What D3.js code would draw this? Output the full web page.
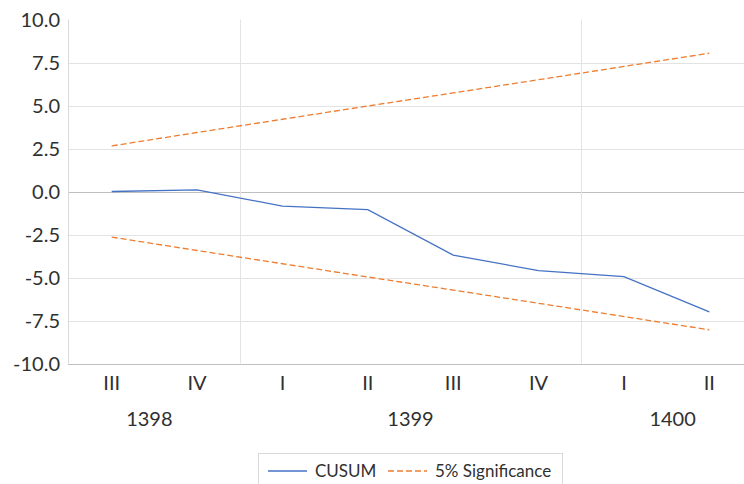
<!DOCTYPE html>
<html><head><meta charset="utf-8">
<script src="https://cdn.jsdelivr.net/npm/d3@7"></script>
<style>body{margin:0;background:#fff}svg{display:block}text{font-family:Lato,"Open Sans",sans-serif;fill:#303030}</style>
</head><body><svg id="c" width="744" height="484"></svg>
<script>
const quarters = ["III","IV","I","II","III","IV","I","II"];
const years = ["1398","1398","1399","1399","1399","1399","1400","1400"];
const cusum = [0.0, 0.1, -0.85, -1.05, -3.7, -4.6, -4.95, -7.0];
const upper = [2.65, 3.43, 4.2, 4.97, 5.73, 6.5, 7.27, 8.04];
const lower = [-2.65, -3.43, -4.2, -4.97, -5.73, -6.5, -7.27, -8.04];
const yTicks = [-10, -7.5, -5, -2.5, 0, 2.5, 5, 7.5, 10];

const svg = d3.select("#c");
const x = d3.scaleBand().domain(d3.range(quarters.length)).range([69, 752]);
const y = d3.scaleLinear().domain([-10, 10]).range([363.5, 19.5]);
const cx = i => x(i) + x.bandwidth() / 2;
const yearNudge = [-5, 0, 6]; // layout tweak for group label placement

// horizontal gridlines
svg.append("g").selectAll("line").data(yTicks.filter(t => t !== 10 && t !== -10)).join("line")
  .attr("x1", x.range()[0]).attr("x2", 744)
  .attr("y1", d => Math.round(y(d)) + 0.5).attr("y2", d => Math.round(y(d)) + 0.5)
  .attr("stroke", d => d === 0 ? "#bfbfbf" : "#e3e3e3").attr("stroke-width", 1);

// year groups
const groups = [];
years.forEach((yr, i) => {
  if (!groups.length || groups[groups.length - 1].yr !== yr) groups.push({yr, start: i, end: i});
  else groups[groups.length - 1].end = i;
});
svg.append("g").selectAll("line").data(groups.slice(1)).join("line")
  .attr("x1", d => Math.round(x(d.start)) + 0.5).attr("x2", d => Math.round(x(d.start)) + 0.5)
  .attr("y1", y(10)).attr("y2", y(-10))
  .attr("stroke", "#e3e3e3");

// axis lines
svg.append("line").attr("x1", 68.5).attr("x2", 68.5).attr("y1", y(10)).attr("y2", y(-10)).attr("stroke", "#d9d9d9");
svg.append("line").attr("x1", 68).attr("x2", 744).attr("y1", Math.round(y(-10)) + 0.5).attr("y2", Math.round(y(-10)) + 0.5).attr("stroke", "#bfbfbf");

// y tick labels
svg.append("g").selectAll("text").data(yTicks).join("text")
  .attr("x", 60).attr("y", d => y(d) + 7)
  .attr("text-anchor", "end").attr("font-size", 20)
  .text(d => d.toFixed(1));

// quarter labels
svg.append("g").selectAll("text").data(quarters).join("text")
  .attr("x", (d, i) => cx(i)).attr("y", 390)
  .attr("text-anchor", "middle").attr("font-size", 20).text(d => d);

// year labels
svg.append("g").selectAll("text").data(groups).join("text")
  .attr("x", (d, k) => (cx(d.start) + cx(d.end)) / 2 + yearNudge[k]).attr("y", 426)
  .attr("text-anchor", "middle").attr("font-size", 20).text(d => d.yr);

const line = d3.line().x((d, i) => cx(i)).y(d => y(d));
[upper, lower].forEach(s => svg.append("path").datum(s).attr("d", line).attr("fill", "none")
  .attr("stroke", "#ED7D31").attr("stroke-width", 1.3).attr("stroke-dasharray", "6,3"));
svg.append("path").datum(cusum).attr("d", line).attr("fill", "none")
  .attr("stroke", "#4472C4").attr("stroke-width", 1.3);

// legend
const lg = svg.append("g");
lg.append("rect").attr("x", 258.5).attr("y", 453.5).attr("width", 304).attr("height", 40)
  .attr("fill", "#fff").attr("stroke", "#d9d9d9");
lg.append("line").attr("x1", 268).attr("x2", 307).attr("y1", 471).attr("y2", 471)
  .attr("stroke", "#4472C4").attr("stroke-width", 1.3);
lg.append("text").attr("x", 315).attr("y", 477).attr("font-size", 17).text("CUSUM");
lg.append("line").attr("x1", 388).attr("x2", 427).attr("y1", 471).attr("y2", 471)
  .attr("stroke", "#ED7D31").attr("stroke-width", 1.3).attr("stroke-dasharray", "6,3");
lg.append("text").attr("x", 435).attr("y", 477).attr("font-size", 17).text("5% Significance");
</script></body></html>
